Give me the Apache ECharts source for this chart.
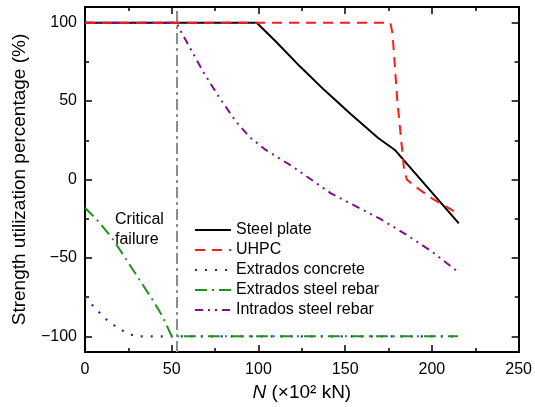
<!DOCTYPE html>
<html>
<head>
<meta charset="utf-8">
<script src="https://cdn.jsdelivr.net/npm/echarts@6/dist/echarts.min.js"></script>
<style>
 html, body { margin: 0; padding: 0; background: #fff; }
 #main { width: 535px; height: 407px; }
</style>
</head>
<body>
<div id="main"></div>
<script>
 var myChart = echarts.init(document.getElementById('main'));
 var font = 'Liberation Sans, Arial, sans-serif';

 // data (N in 10^2 kN, utilization in %)
 var seriesNames = ['Steel plate', 'UHPC', 'Extrados concrete', 'Extrados steel rebar', 'Intrados steel rebar'];
 var steelPlate = [[0,100],[99,100],[110,88],[124,72],[138,57],[153,42],[169,26.5],[178.5,19],[215.5,-28]];
 var uhpc = [[0,100],[176,100],[177.3,93],[180,51],[183.8,8],[185.5,0],[191,-5],[200,-12],[215.5,-22]];
 var extradosConcrete = [[0,-75],[5,-81],[11.5,-88.5],[18,-94],[25,-98.5],[30,-100],[215,-100]];
 var extradosRebar = [[0,-18],[8,-27],[16,-38],[23.5,-50.5],[32,-65],[40,-78.5],[45,-88],[50,-100],[215,-100]];
 var intradosRebar = [[0,100],[53,100],[54,97],[61,83],[68,69],[77,53],[87,37],[95,27],[104,19],[120,8],[142,-9],[170,-25],[185,-35],[200,-46],[214,-58]];
 var criticalN = 53;

 var xTicks = [0, 50, 100, 150, 200, 250];
 var yMajor = [-100, -50, 0, 50, 100];
 var yMinor = [-75, -25, 25, 75];

 var colors = ['#000000', '#ff1a1a', '#2626a6', '#1f931f', '#800d8a'];
 var dashes = ['solid', [10, 7], [2, 8], [12, 5, 2, 5], [8, 5, 2, 5, 2, 5]];

 function minus(v) {
     return v < 0 ? '\u2212' + (-v) : '' + v;
 }

 function xAxisDef(pos, show) {
     return {
         type: 'value', position: pos, min: xTicks[0], max: xTicks[xTicks.length - 1], interval: 50,
         name: show ? '{i|N} (×10² kN)' : '',
         nameLocation: 'middle', nameGap: 25,
         nameTextStyle: {
             fontFamily: font, fontSize: 19, color: '#000',
             rich: { i: { fontStyle: 'italic', fontFamily: font, fontSize: 19, color: '#000' } }
         },
         axisLine: { show: true, onZero: false, lineStyle: { color: '#000', width: 2 } },
         axisTick: { show: true, inside: true, length: 7, lineStyle: { color: '#000', width: 1.5 } },
         minorTick: { show: true, splitNumber: 2, length: 4, lineStyle: { color: '#000', width: 1.5 } },
         axisLabel: { show: show, fontFamily: font, fontSize: 16, color: '#000', margin: 10 },
         splitLine: { show: false }
     };
 }

 function yAxisDef(pos, ticks, len, labels) {
     return {
         type: 'value', position: pos, min: -110, max: 110,
         name: labels ? 'Strength utilization percentage (%)' : '',
         nameLocation: 'middle', nameGap: 56,
         nameTextStyle: { fontFamily: font, fontSize: 19, color: '#000' },
         axisLine: { show: true, onZero: false, lineStyle: { color: '#000', width: 2 } },
         axisTick: { show: true, inside: true, length: len, customValues: ticks, lineStyle: { color: '#000', width: 1.5 } },
         axisLabel: {
             show: labels, customValues: yMajor, fontFamily: font, fontSize: 16, color: '#000', margin: 8,
             formatter: minus
         },
         splitLine: { show: false }
     };
 }

 var dataList = [steelPlate, uhpc, extradosConcrete, extradosRebar, intradosRebar];
 var zs = [3, 5, 2, 3, 4];
 var series = [];
 for (var i = 0; i < dataList.length; i++) {
     series.push({
         name: seriesNames[i], type: 'line', data: dataList[i],
         symbol: 'none', z: zs[i], silent: true,
         lineStyle: { color: colors[i], width: i === 2 ? 2.2 : 2, type: dashes[i] },
         itemStyle: { color: colors[i] }
     });
 }
 series[0].markLine = {
     silent: true, symbol: ['none', 'none'], label: { show: false },
     lineStyle: { color: '#8c8c8c', width: 2, type: [11, 4, 3, 4] },
     data: [{ xAxis: criticalN }]
 };

 option = {
     animation: false,
     backgroundColor: '#fff',
     grid: { left: 85, right: 16, top: 7, bottom: 55 },
     xAxis: [xAxisDef('bottom', true), xAxisDef('top', false)],
     yAxis: [
         yAxisDef('left', yMajor, 7, true),
         yAxisDef('right', yMajor, 7, false),
         yAxisDef('left', yMinor, 4, false),
         yAxisDef('right', yMinor, 4, false)
     ],
     legend: {
         orient: 'vertical', left: 189, top: 217,
         itemWidth: 36, itemHeight: 16, itemGap: 4,
         itemStyle: { opacity: 0, borderWidth: 0 },
         textStyle: { fontFamily: font, fontSize: 16, color: '#000', lineHeight: 16 },
         data: seriesNames
     },
     graphic: [{
         type: 'text', left: 115, top: 210,
         style: { text: 'Critical\nfailure', font: '16px ' + font, fill: '#000', lineHeight: 20 }
     }],
     series: series
 };
 myChart.setOption(option);
</script>
</body>
</html>
